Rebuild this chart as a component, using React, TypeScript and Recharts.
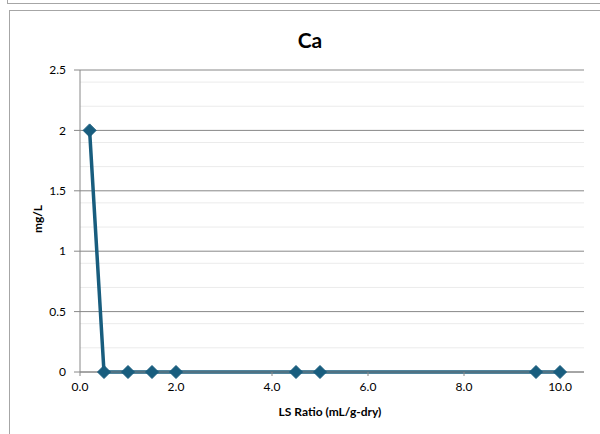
import React from 'react';
import { LineChart, Line, XAxis, YAxis, CartesianGrid } from 'recharts';

// LS ratio (mL/g-dry) and Ca concentration (mg/L)
const lsRatio = [0.2, 0.5, 1.0, 1.5, 2.0, 4.5, 5.0, 9.5, 10.0];
const caValues = [2, 0, 0, 0, 0, 0, 0, 0, 0];

const xTicks = [0, 2, 4, 6, 8, 10];
const yTicks = [0, 0.5, 1, 1.5, 2, 2.5];
const yMinorTicks = [
  0.1, 0.2, 0.3, 0.4, 0.6, 0.7, 0.8, 0.9, 1.1, 1.2, 1.3, 1.4,
  1.6, 1.7, 1.8, 1.9, 2.1, 2.2, 2.3, 2.4,
];

const data = lsRatio.map((x, i) => ({ x, y: caValues[i] }));

const LINE_COLOR = '#185d7e';
const FONT = 'Lato, Carlito, Calibri, sans-serif';

const Diamond = (props: any) => {
  const { cx, cy, index } = props;
  if (cx == null || cy == null) return null;
  const r = 6.5;
  return (
    <path
      key={`d-${index}`}
      d={`M${cx},${cy - r} L${cx + r},${cy} L${cx},${cy + r} L${cx - r},${cy} Z`}
      fill={LINE_COLOR}
      stroke={LINE_COLOR}
    />
  );
};

const App: React.FC = () => {
  return (
    <div
      style={{
        position: 'fixed',
        left: 0,
        top: 0,
        width: 600,
        height: 434,
        background: '#fff',
        overflow: 'hidden',
        fontFamily: FONT,
      }}
    >
      {/* bottom edge of the chart frame above */}
      <div
        style={{
          position: 'absolute',
          left: 7,
          top: -10,
          width: 620,
          height: 12,
          border: '1px solid #a6a6a6',
        }}
      />
      {/* this chart's frame */}
      <div
        style={{
          position: 'absolute',
          left: 9,
          top: 10,
          width: 620,
          height: 440,
          border: '1px solid #a6a6a6',
        }}
      />
      <div
        style={{
          position: 'absolute',
          left: 260,
          top: 27,
          width: 100,
          textAlign: 'center',
          fontSize: 21,
          fontWeight: 'bold',
          color: '#000',
        }}
      >
        Ca
      </div>
      <div
        style={{
          position: 'absolute',
          left: 37,
          top: 219,
          transform: 'translate(-50%, -50%) rotate(-90deg)',
          fontSize: 12,
          fontWeight: 'bold',
          whiteSpace: 'nowrap',
          color: '#000',
        }}
      >
        mg/L
      </div>
      <div
        style={{
          position: 'absolute',
          left: 230,
          top: 404,
          width: 200,
          textAlign: 'center',
          fontSize: 12,
          fontWeight: 'bold',
          color: '#000',
        }}
      >
        LS Ratio (mL/g-dry)
      </div>
      <div style={{ position: 'absolute', left: 0, top: 0 }}>
        <LineChart
          width={600}
          height={434}
          data={data}
          margin={{ top: 70, right: 16, bottom: 32, left: 30 }}
        >
          <CartesianGrid
            vertical={false}
            horizontalValues={yMinorTicks}
            stroke="#ebebeb"
            strokeWidth={1}
          />
          <CartesianGrid vertical={false} stroke="#888888" strokeWidth={1} />
          <XAxis
            type="number"
            dataKey="x"
            domain={[0, 10.5]}
            ticks={xTicks}
            tickFormatter={(v: number) => v.toFixed(1)}
            axisLine={{ stroke: '#888888' }}
            tickLine={{ stroke: '#888888' }}
            tickSize={4}
            tickMargin={6}
            height={30}
            tick={{ fontSize: 12, fill: '#000', fontFamily: FONT }}
            allowDataOverflow
          />
          <YAxis
            type="number"
            domain={[0, 2.5]}
            ticks={yTicks}
            axisLine={{ stroke: '#888888' }}
            tickLine={{ stroke: '#888888' }}
            tickSize={6}
            tickMargin={8}
            width={50}
            tick={{ fontSize: 12, fill: '#000', fontFamily: FONT }}
          />
          <Line
            type="linear"
            dataKey="y"
            stroke={LINE_COLOR}
            strokeWidth={3.5}
            dot={Diamond}
            activeDot={false}
            isAnimationActive={false}
          />
        </LineChart>
      </div>
    </div>
  );
};

export default App;
